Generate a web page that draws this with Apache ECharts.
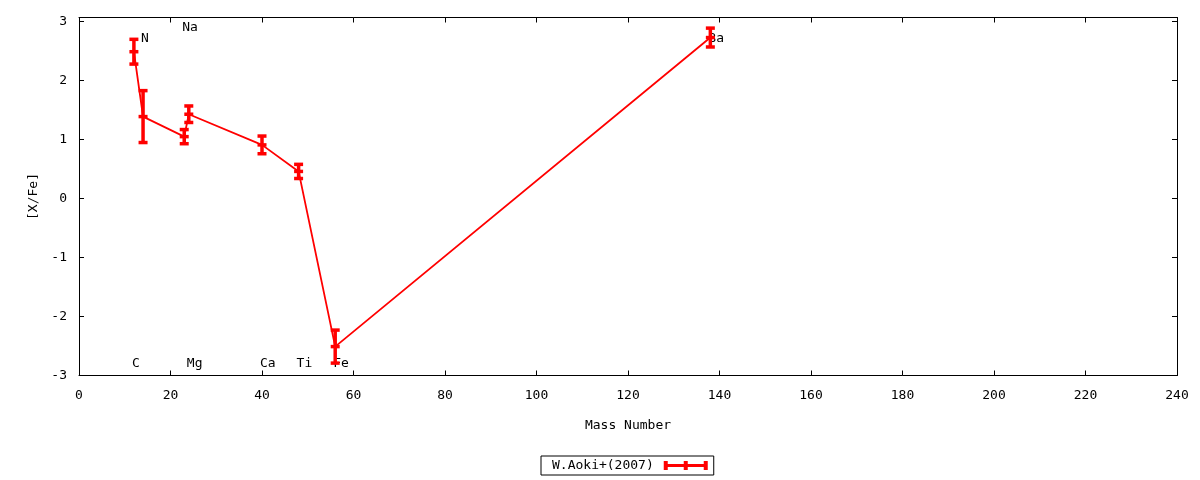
<!DOCTYPE html>
<html>
<head>
<meta charset="utf-8">
<script src="https://cdn.jsdelivr.net/npm/echarts@6/dist/echarts.min.js"></script>
<style>
html,body{margin:0;padding:0;background:#fff;}
#chart{width:1200px;height:480px;}
</style>
</head>
<body>
<div id="chart"></div>
<script>
// ---- data ----
const seriesName = 'W.Aoki+(2007)';
const massNumber = [12, 14, 23, 24, 40, 48, 56, 138];
const xFe        = [2.49, 1.39, 1.05, 1.43, 0.91, 0.46, -2.51, 2.73];
const xFeErr     = [0.21, 0.44, 0.12, 0.14, 0.15, 0.12, 0.28, 0.16];

const labelNames = ['C', 'N', 'Na', 'Mg', 'Ca', 'Ti', 'Fe', 'Ba'];
const labelX     = [12, 14, 23, 24, 40, 48, 56, 138];
const labelY     = [-2.8, 2.72, 2.89, -2.8, -2.8, -2.8, -2.8, 2.72];

const xTicksMin = 0, xTicksMax = 240, xTickStep = 20;
const yTicksMin = -3, yTicksMax = 3, yTickStep = 1;

// ---- chart ----
const FONT = '"DejaVu Sans Mono", "Liberation Mono", monospace';
const RED = '#ff0000';
const chart = echarts.init(document.getElementById('chart'), null, {renderer: 'canvas'});

const lineData = massNumber.map((m, i) => [m, xFe[i]]);
const errData = massNumber.map((m, i) => [m, xFe[i], xFeErr[i]]);
const labData = labelX.map((x, i) => [x, labelY[i], i]);

const axisCommon = {
  axisLine: {show: true, onZero: false, lineStyle: {color: '#000', width: 1}},
  axisTick: {show: true, inside: true, length: 5, lineStyle: {color: '#000', width: 1}},
  splitLine: {show: false},
};

const option = {
  animation: false,
  backgroundColor: '#fff',
  grid: {left: 79, right: 23, top: 17.5, bottom: 104.5, containLabel: false},
  xAxis: [
    Object.assign({
      type: 'value', min: xTicksMin, max: xTicksMax, interval: xTickStep,
      position: 'bottom',
      name: 'Mass Number', nameLocation: 'middle', nameGap: 44,
      nameTextStyle: {fontFamily: FONT, fontSize: 13, color: '#000'},
      axisLabel: {fontFamily: FONT, fontSize: 13, color: '#000', margin: 14},
    }, axisCommon),
    Object.assign({
      type: 'value', min: xTicksMin, max: xTicksMax, interval: xTickStep,
      position: 'top', axisLabel: {show: false},
    }, axisCommon)
  ],
  yAxis: [
    Object.assign({
      type: 'value', min: yTicksMin, max: yTicksMax + 0.07, interval: yTickStep,
      position: 'left',
      name: '[X/Fe]', nameLocation: 'middle', nameGap: 39, nameRotate: 90,
      nameTextStyle: {fontFamily: FONT, fontSize: 13, color: '#000'},
      axisLabel: {fontFamily: FONT, fontSize: 13, color: '#000', margin: 12,
        formatter: v => (Math.abs(v - Math.round(v)) < 1e-9 ? String(Math.round(v)) : '')},
    }, axisCommon),
    Object.assign({
      type: 'value', min: yTicksMin, max: yTicksMax + 0.07, interval: yTickStep,
      position: 'right', axisLabel: {show: false},
    }, axisCommon)
  ],
  legend: {
    show: true,
    left: 541, top: 456,
    orient: 'horizontal',
    align: 'right',
    padding: [3, 6, 3, 11],
    itemGap: 0,
    itemWidth: 44, itemHeight: 9,
    itemTextGap: 5,
    borderColor: '#000', borderWidth: 1, borderRadius: 0,
    backgroundColor: '#fff',
    textStyle: {fontFamily: FONT, fontSize: 13, color: '#000', padding: [0, 5, 0, 0]},
    selectedMode: false,
    data: [{
      name: seriesName,
      icon: 'path://M0 0H4V9H0Z M0 3H44V6H0Z M20 0H24V9H20Z M40 0H44V9H40Z',
      itemStyle: {color: RED}
    }]
  },
  series: [
    {
      name: 'labels',
      type: 'custom',
      xAxisIndex: 0, yAxisIndex: 0,
      data: labData,
      z: 1,
      silent: true,
      renderItem: (params, api) => {
        const p = api.coord([api.value(0), api.value(1)]);
        const idx = api.value(2);
        return {
          type: 'text',
          x: p[0] - 2, y: p[1],
          style: {
            text: labelNames[idx],
            fill: '#000',
            font: '13px ' + FONT,
            align: 'left',
            verticalAlign: 'middle'
          }
        };
      }
    },
    {
      name: seriesName,
      type: 'line',
      xAxisIndex: 0, yAxisIndex: 0,
      data: lineData,
      showSymbol: false,
      symbol: 'none',
      z: 2,
      lineStyle: {color: RED, width: 1.8},
      itemStyle: {color: RED}
    },
    {
      name: seriesName,
      type: 'custom',
      xAxisIndex: 0, yAxisIndex: 0,
      data: errData,
      z: 3,
      itemStyle: {color: RED},
      renderItem: (params, api) => {
        const x = api.value(0), y = api.value(1), e = api.value(2);
        const t = api.coord([x, y + e]);
        const b = api.coord([x, y - e]);
        const m = api.coord([x, y]);
        const hw = 4.5;
        const st = {stroke: RED, lineWidth: 3.5};
        return {
          type: 'group',
          children: [
            {type: 'line', shape: {x1: t[0], y1: t[1], x2: b[0], y2: b[1]}, style: st},
            {type: 'line', shape: {x1: t[0] - hw, y1: t[1], x2: t[0] + hw, y2: t[1]}, style: st},
            {type: 'line', shape: {x1: b[0] - hw, y1: b[1], x2: b[0] + hw, y2: b[1]}, style: st},
            {type: 'line', shape: {x1: m[0] - hw, y1: m[1], x2: m[0] + hw, y2: m[1]}, style: st}
          ]
        };
      }
    }
  ]
};
chart.setOption(option);
</script>
</body>
</html>
